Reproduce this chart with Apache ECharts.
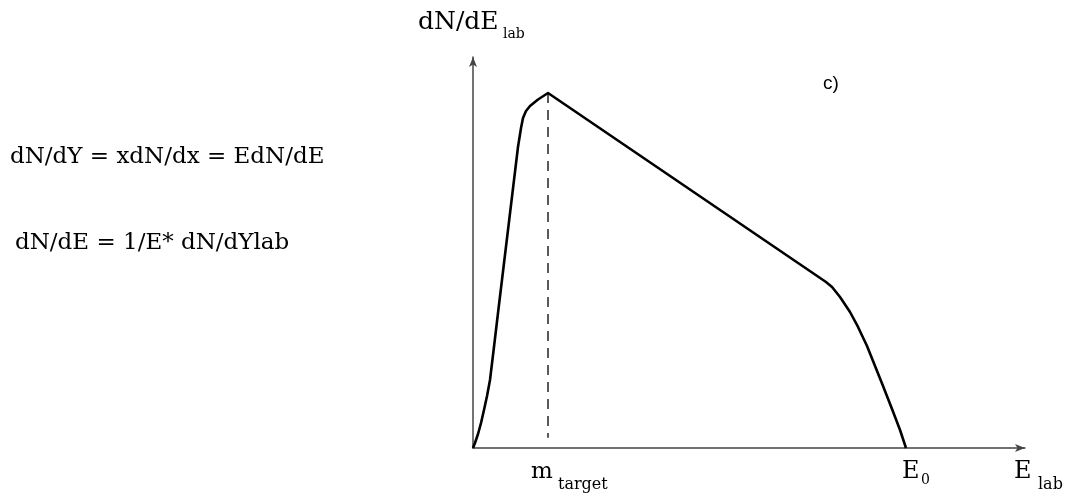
<!DOCTYPE html>
<html>
<head>
<meta charset="utf-8">
<script src="https://cdn.jsdelivr.net/npm/echarts@6/dist/echarts.min.js"></script>
<style>
html,body{margin:0;padding:0;background:#fff;}
#c{width:1069px;height:496px;}
</style>
</head>
<body>
<div id="c"></div>
<script>
// Spectrum curve dN/dE_lab vs E_lab (arbitrary units)
const curveX = [0, 0.036, 0.091, 0.145, 0.199, 0.254, 0.308, 0.380, 0.453, 0.634, 0.815, 0.870, 0.906, 0.960, 1.033, 1.178, 1.359,
                6.395, 6.504, 6.649, 6.830, 6.975, 7.138, 7.283, 7.428, 7.591, 7.736, 7.844];
const curveY = [0, 0.128, 0.358, 0.639, 0.972, 1.330, 1.739, 2.583, 3.453, 5.575, 7.698, 8.184, 8.440, 8.619, 8.747, 8.913, 9.079,
                4.246, 4.118, 3.862, 3.478, 3.095, 2.609, 2.097, 1.586, 0.997, 0.460, 0];
const mTarget = 1.359;
const dashX = [mTarget, mTarget];
const dashY = [9.079, 0.26];

const curve = curveX.map((x, i) => [x, curveY[i]]);
const dash = dashX.map((x, i) => [x, dashY[i]]);

const serif = '"DejaVu Serif", "Liberation Serif", serif';

const chart = echarts.init(document.getElementById('c'));
chart.setOption({
  animation: false,
  backgroundColor: '#ffffff',
  grid: { left: 473, right: 44, top: 57, bottom: 48 },
  xAxis: {
    type: 'value', min: 0, max: 10,
    axisLine: { show: true, onZero: false, symbol: ['none', 'arrow'], symbolSize: [6, 10],
      lineStyle: { color: '#444', width: 1.5 } },
    axisTick: { show: false }, axisLabel: { show: false }, splitLine: { show: false }
  },
  yAxis: {
    type: 'value', min: 0, max: 10,
    axisLine: { show: true, onZero: false, symbol: ['none', 'arrow'], symbolSize: [6, 10],
      lineStyle: { color: '#444', width: 1.5 } },
    axisTick: { show: false }, axisLabel: { show: false }, splitLine: { show: false }
  },
  series: [
    { type: 'line', data: curve, showSymbol: false, smooth: false,
      lineStyle: { color: '#000', width: 2.6, join: 'round' }, z: 3 },
    { type: 'line', data: dash, showSymbol: false,
      lineStyle: { color: '#222', width: 1.5, type: [10, 7] }, z: 2 }
  ],
  graphic: [
    { type: 'text', left: 418, top: 10, style: { text: 'dN/dE', font: '25px ' + serif, fill: '#000' } },
    { type: 'text', left: 503, top: 27, style: { text: 'lab', font: '14px ' + serif, fill: '#000' } },
    { type: 'text', left: 823, top: 74, style: { text: 'c)', font: '19px "Liberation Sans", sans-serif', fill: '#000' } },
    { type: 'text', left: 10, top: 146, style: { text: 'dN/dY = xdN/dx = EdN/dE', font: '23px ' + serif, fill: '#000' } },
    { type: 'text', left: 15, top: 232, style: { text: 'dN/dE = 1/E* dN/dYlab', font: '23px ' + serif, fill: '#000' } },
    { type: 'text', left: 531, top: 461, style: { text: 'm', font: '23px ' + serif, fill: '#000' } },
    { type: 'text', left: 558, top: 477, style: { text: 'target', font: '16px ' + serif, fill: '#000' } },
    { type: 'text', left: 902, top: 460, style: { text: 'E', font: '24px ' + serif, fill: '#000' } },
    { type: 'text', left: 921, top: 473, style: { text: '0', font: '14px ' + serif, fill: '#000' } },
    { type: 'text', left: 1014, top: 460, style: { text: 'E', font: '24px ' + serif, fill: '#000' } },
    { type: 'text', left: 1038, top: 477, style: { text: 'lab', font: '16px ' + serif, fill: '#000' } }
  ]
});
</script>
</body>
</html>
